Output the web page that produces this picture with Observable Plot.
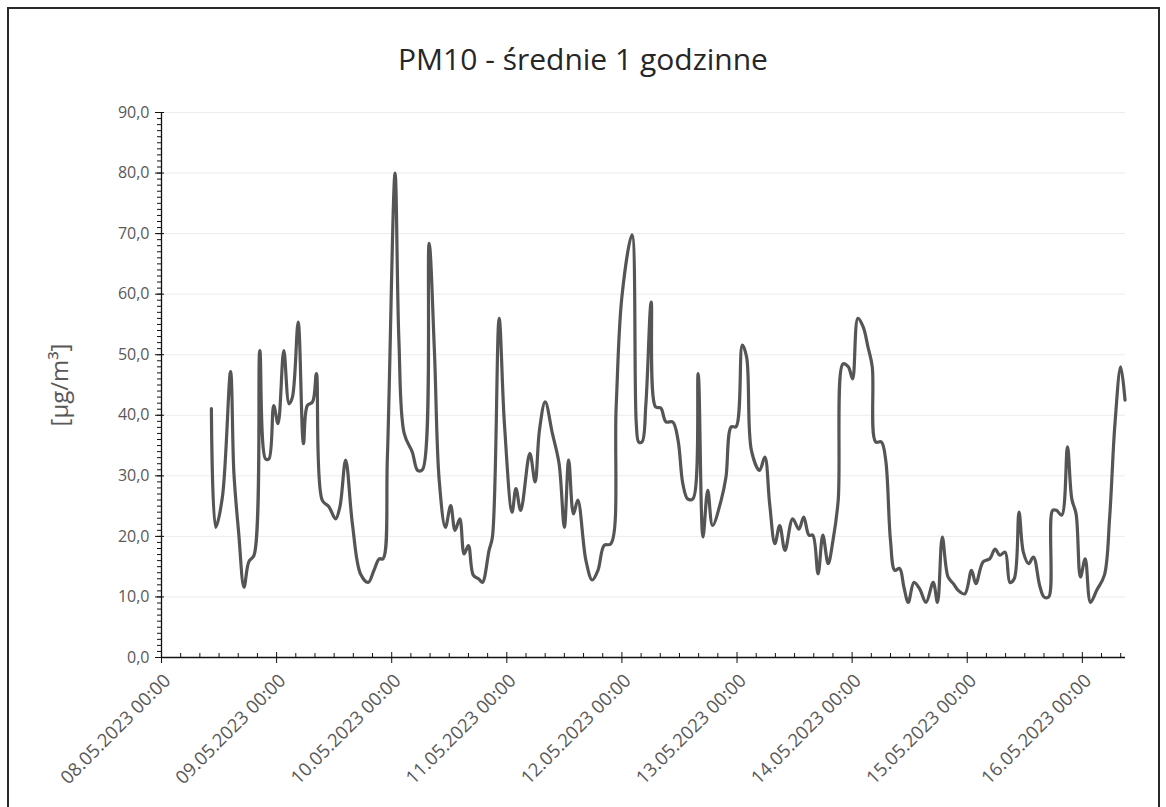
<!DOCTYPE html>
<html><head><meta charset="utf-8">
<script src="https://cdn.jsdelivr.net/npm/d3@7"></script>
<script src="https://cdn.jsdelivr.net/npm/@observablehq/plot@0.6"></script>
<style>
body{margin:0;background:#fff;}
#wrap{position:relative;width:1166px;height:807px;overflow:hidden;font-family:"Open Sans",sans-serif;}
#frame{position:absolute;left:7px;top:7px;width:1153px;height:830px;border:2px solid #2a2a2a;box-sizing:border-box;pointer-events:none;}
#title{height:95px;box-sizing:border-box;padding-top:39px;text-align:center;font-size:30px;line-height:40px;color:#262626;}
</style></head>
<body>
<div id="wrap">
<div id="title">PM10 - średnie 1 godzinne</div>
<div id="chart"></div>
<div id="frame"></div>
</div>
<script>
// hours since 08.05.2023 00:00 and PM10 values [µg/m³]
const hours = [10.4,11.3,12.7,14.4,15.1,16.1,17.2,18.2,19.3,20.5,21.7,22.4,23.4,24.3,25.5,26.6,27.3,28.5,29.6,30.4,31.5,32.3,33.5,34.9,36.3,37.2,38.4,39.8,
41.5,43.1,44.3,45.4,46.2,47.1,48.7,49.5,50.6,52.3,53.4,54.4,55.8,56.9,57.9,59.2,60.3,61.2,62.2,63.1,64.0,65.0,66.1,66.9,68.3,69.0,70.4,71.5,
73.1,73.9,74.9,76.8,77.9,78.8,80.0,81.5,82.9,84.0,84.9,85.9,86.8,88.5,89.8,91.0,92.3,93.7,94.8,96.0,98.1,99.0,99.5,100.2,101.0,102.1,103.0,104.1,
105.2,106.6,107.7,108.7,109.7,110.8,111.9,112.9,113.9,114.9,116.7,117.7,118.8,119.8,121.1,122.0,123.0,124.7,125.8,126.8,127.9,128.9,130.0,131.6,132.9,133.9,135.0,135.8,
136.9,137.9,139.0,140.0,141.1,142.1,143.2,144.1,145.2,146.3,147.3,148.2,148.9,150.1,151.0,152.0,152.9,153.9,154.8,155.7,156.9,158.1,159.4,160.9,161.8,162.8,164.0,165.1,166.1,
167.5,168.9,169.8,171.3,172.7,173.8,174.8,175.9,176.9,177.8,178.8,179.7,180.8,181.8,183.1,184.0,185.0,185.8,186.6,187.7,188.9,189.8,190.7,191.6,192.6,193.7,195.0,196.6,197.7,198.8,200.0,200.9];
const pm10 = [41.1,21.5,26.5,47.2,30.4,20.5,11.6,15.8,16.9,50.7,32.8,32.8,41.6,38.6,50.7,41.9,43.0,55.4,35.3,41.6,42.2,46.9,26.0,24.9,22.9,24.9,32.6,22.1,
13.8,12.4,14.4,16.3,16.3,33.1,80.0,52.4,37.0,33.9,30.9,31.0,68.4,50.7,29.3,21.5,25.1,21.0,22.9,17.1,18.5,13.6,13.0,12.4,17.7,19.9,56.0,38.6,
24.0,27.9,24.3,33.7,29.0,37.5,42.2,37.0,32.0,21.5,32.6,23.7,26.0,16.0,12.8,14.4,18.5,18.8,41.4,59.6,69.8,38.6,35.6,35.6,41.9,58.7,41.4,41.2,
38.9,38.9,35.9,28.7,26.2,26.2,46.9,19.9,27.6,21.8,26.0,29.8,38.1,38.1,51.6,49.6,34.2,30.9,33.1,25.4,18.8,21.8,17.7,22.9,21.2,23.2,20.2,20.2,
13.8,20.2,15.5,19.3,26.0,48.5,48.0,46.0,56.0,54.6,51.3,48.0,35.6,35.6,32.6,19.3,14.4,14.7,11.6,9.1,12.4,11.3,9.1,12.4,9.1,19.9,13.3,12.2,11.1,
10.5,14.4,12.2,15.8,16.3,17.9,16.9,17.4,12.4,13.0,24.0,17.4,15.5,16.6,11.9,10.0,10.0,24.3,24.3,23.5,34.8,26.2,23.7,13.3,16.3,9.1,11.1,13.6,23.2,38.6,48.0,42.5];
const dayHours = [0,24,48,72,96,120,144,168,192];
const yTicks = [0,10,20,30,40,50,60,70,80,90];
const xEndHour = 201;

const t0 = Date.UTC(2023,4,8,0,0);
const toDate = h => new Date(t0 + h*3600e3);
const data = hours.map((h,i) => ({date: toDate(h), value: pm10[i]}));
const days = dayHours.map(toDate);
const minor = d3.range(4, xEndHour, 4).filter(h => h % 24 !== 0).map(toDate);
const p2 = n => String(n).padStart(2,"0");
const fmtDate = d => `${p2(d.getUTCDate())}.${p2(d.getUTCMonth()+1)}.${d.getUTCFullYear()} ${p2(d.getUTCHours())}:${p2(d.getUTCMinutes())}`;
const fmtNum = v => v.toFixed(1).replace(".", ",");
const empty = () => "";

const chart = Plot.plot({
  width: 1166, height: 712,
  marginLeft: 161, marginRight: 41, marginTop: 17, marginBottom: 150,
  style: {fontFamily: "'Open Sans', sans-serif", fontSize: "16px", background: "transparent"},
  x: {type: "utc", domain: [toDate(0), toDate(xEndHour)]},
  y: {domain: [0, 90]},
  marks: [
    Plot.gridY(yTicks.slice(1), {stroke: "#ececec", strokeOpacity: 1}),
    Plot.ruleY([0], {stroke: "#111", strokeWidth: 1.3}),
    Plot.ruleX([toDate(0)], {stroke: "#111", strokeWidth: 1.3}),
    Plot.axisX(minor, {tickSize: -4, tickFormat: empty, stroke: "#111", label: null}),
    Plot.axisX(days, {tickSize: 6, tickFormat: empty, stroke: "#111", label: null}),
    Plot.axisX(days, {tickSize: -5, tickFormat: empty, stroke: "#111", label: null}),
    Plot.axisX(days, {tickSize: 0, tickPadding: 20, tickRotate: -45, tickFormat: fmtDate, fill: "#595959", fontSize: 18.5, dx: 6, label: null}),
    Plot.axisY(d3.range(0, 91, 1), {tickSize: 4, tickFormat: empty, stroke: "#111", label: null}),
    Plot.axisY(yTicks, {tickSize: 6, tickFormat: empty, stroke: "#111", label: null}),
    Plot.axisY(yTicks, {tickSize: -3, tickFormat: empty, stroke: "#111", label: null}),
    Plot.axisY(yTicks, {tickSize: 0, tickPadding: 12, tickFormat: fmtNum, fill: "#595959", fontSize: 16, label: null}),
    Plot.text(["[µg/m³]"], {frameAnchor: "left", text: d => d, rotate: -90, dx: -101, textAnchor: "middle", fill: "#595959", fontSize: 24}),
    Plot.line(data, {x: "date", y: "value", stroke: "#555555", strokeWidth: 3.2, curve: "catmull-rom"})
  ]
});
document.getElementById("chart").appendChild(chart);
</script>
</body></html>
